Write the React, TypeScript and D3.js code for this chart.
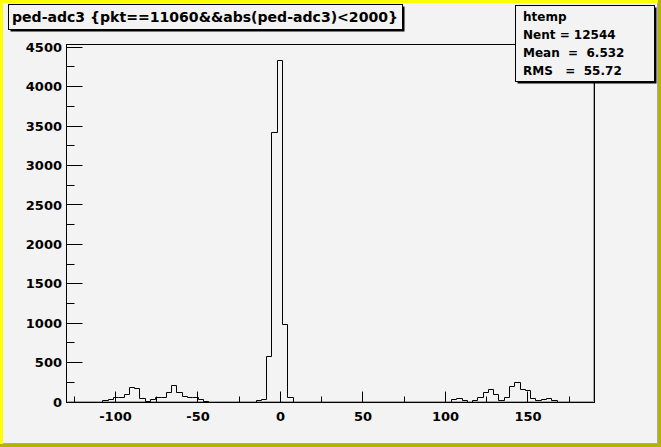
import React from "react";
import * as d3 from "d3";

// ---- data ----
const xMin = -130;
const xMax = 190;
const yMax = 4540;
const binCounts: number[] = [
  0, 0, 0, 0, 0, 0, 0, 20, 33, 55,
  55, 93, 181, 168, 42, 8, 29, 55, 63, 126,
  206, 126, 76, 59, 59, 34, 8, 0, 0, 0,
  0, 0, 0, 0, 0, 0, 13, 34, 583, 3415,
  4325, 977, 59, 0, 0, 0, 0, 0, 0, 0,
  0, 0, 0, 0, 0, 0, 0, 0, 0, 0,
  0, 0, 0, 0, 0, 0, 0, 0, 0, 0,
  0, 0, 0, 34, 46, 13, 0, 21, 63, 126,
  155, 93, 21, 55, 193, 244, 155, 147, 42, 13,
  34, 42, 21, 0, 0, 0, 0, 0, 0, 0,
];
const xMajorTicks = [-100, -50, 0, 50, 100, 150];
const xMinorTicks = [-125, -75, -25, 25, 75, 125, 175];
const yMajorTicks = [0, 500, 1000, 1500, 2000, 2500, 3000, 3500, 4000, 4500];
const yMinorTicks = [250, 750, 1250, 1750, 2250, 2750, 3250, 3750, 4250];
const titleText = "ped-adc3 {pkt==11060&&abs(ped-adc3)<2000}";
const statsLines = ["htemp", "Nent = 12544", "Mean  =  6.532", "RMS   =  55.72"];

const W = 661;
const H = 447;
const frame = { left: 66, right: 594, top: 44, bottom: 402 };
const BG = "#f3f3f3";
const FONT = "DejaVu Sans";

const s = (v: number) => Math.floor(v) + 0.5;

export default function App() {
  const x = d3.scaleLinear().domain([xMin, xMax]).range([frame.left, frame.right]);
  const y = d3.scaleLinear().domain([0, yMax]).range([frame.bottom, frame.top]);
  const binW = (xMax - xMin) / binCounts.length;

  const p = d3.path();
  p.moveTo(s(x(xMin)), s(y(0)));
  binCounts.forEach((c, i) => {
    const x0 = s(x(xMin + i * binW));
    const x1 = s(x(xMin + (i + 1) * binW));
    p.lineTo(x0, s(y(c)));
    p.lineTo(x1, s(y(c)));
  });
  p.lineTo(s(x(xMax)), s(y(0)));

  const fl = s(frame.left), fr = s(frame.right), ft = s(frame.top), fb = s(frame.bottom);

  const sb = { x: 515, y: 5, w: 139, h: 76 };
  const tb = { x: 8, y: 4, w: 394, h: 25 };

  return (
    <svg width={W} height={H} style={{ position: "absolute", left: 0, top: 0 }}>
      <rect x={0} y={0} width={W} height={H} fill={BG} />
      {/* canvas bevel border */}
      <rect x={0} y={0} width={W} height={3} fill="#ffff00" />
      <rect x={0} y={0} width={3} height={H} fill="#ffff00" />
      <rect x={0} y={H - 3} width={W} height={3} fill="#b4b400" />
      <rect x={W - 3} y={0} width={3} height={H} fill="#b4b400" />
      <line x1={3} x2={W - 3} y1={H - 3.5} y2={H - 3.5} stroke="#a8a8a8" />
      <line x1={W - 3.5} x2={W - 3.5} y1={3} y2={H - 3} stroke="#a8a8a8" />

      {/* frame */}
      <line x1={fl + 1} x2={fr - 1} y1={fb - 1} y2={fb - 1} stroke="#a8a8a8" />
      <line x1={fr - 1} x2={fr - 1} y1={ft + 1} y2={fb - 1} stroke="#a8a8a8" />
      <rect x={fl} y={ft} width={fr - fl} height={fb - ft} fill="none" stroke="#000" />

      {/* histogram */}
      <path d={p.toString()} fill="none" stroke="#000" strokeWidth={1} />

      {/* x ticks */}
      {xMajorTicks.map((t) => (
        <line key={"xM" + t} x1={s(x(t) - 0.01)} x2={s(x(t) - 0.01)} y1={fb} y2={fb - 11} stroke="#000" />
      ))}
      {xMinorTicks.map((t) => (
        <line key={"xm" + t} x1={s(x(t) - 0.01)} x2={s(x(t) - 0.01)} y1={fb} y2={fb - 6} stroke="#000" />
      ))}
      {xMajorTicks.map((t) => (
        <text key={"xl" + t} x={x(t)} y={421} textAnchor="middle" fontFamily={FONT} fontWeight="bold" fontSize={13} fill="#000">
          {String(t)}
        </text>
      ))}

      {/* y ticks */}
      {yMajorTicks.map((t) => (
        <line key={"yM" + t} x1={fl} x2={fl + 16} y1={s(y(t))} y2={s(y(t))} stroke="#000" />
      ))}
      {yMinorTicks.map((t) => (
        <line key={"ym" + t} x1={fl} x2={fl + 8} y1={s(y(t))} y2={s(y(t))} stroke="#000" />
      ))}
      {yMajorTicks.map((t) => (
        <text key={"yl" + t} x={62} y={y(t) + 4.7} textAnchor="end" fontFamily={FONT} fontWeight="bold" fontSize={13} fill="#000">
          {String(t)}
        </text>
      ))}

      {/* title box */}
      <rect x={tb.x + 2.5} y={tb.y + 2.5} width={tb.w} height={tb.h} fill="#000" />
      <rect x={tb.x + 0.5} y={tb.y + 0.5} width={tb.w} height={tb.h} fill={BG} stroke="#000" />
      <text x={12} y={21.5} fontFamily={FONT} fontWeight="bold" fontSize={13.5} textLength={386} lengthAdjust="spacingAndGlyphs" fill="#000">
        {titleText}
      </text>

      {/* stats box */}
      <rect x={sb.x + 2.5} y={sb.y + 2.5} width={sb.w} height={sb.h} fill="#000" />
      <rect x={sb.x + 0.5} y={sb.y + 0.5} width={sb.w} height={sb.h} fill={BG} stroke="#000" />
      {statsLines.map((l, i) => (
        <text key={l} x={523} y={20.5 + i * 18.2} fontFamily={FONT} fontWeight="bold" fontSize={12} fill="#000" style={{ whiteSpace: "pre" }}>
          {l}
        </text>
      ))}
    </svg>
  );
}
